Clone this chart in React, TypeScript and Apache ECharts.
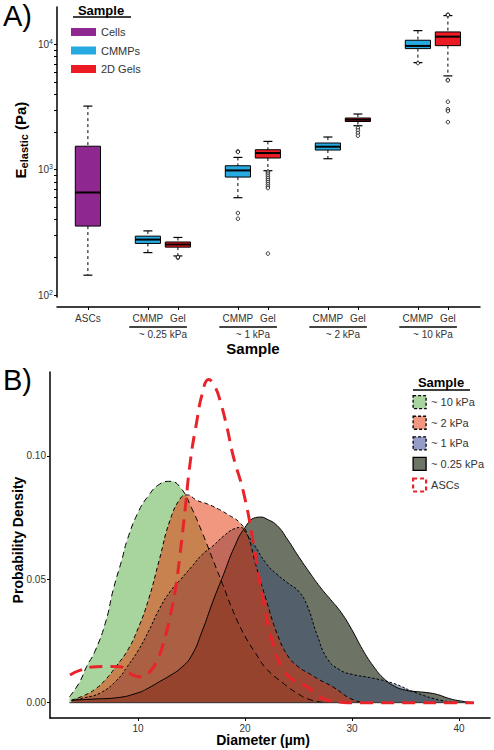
import React, { useEffect, useRef } from "react";
import * as echarts from "echarts";

const FONT = "'Liberation Sans', Arial, Helvetica, sans-serif";

// ---------- Panel A data ----------
const categoryLabels = ["ASCs", "CMMP", "Gel", "CMMP", "Gel", "CMMP", "Gel", "CMMP", "Gel"];
const categoryGroups = ["", "~ 0.25 kPa", "~ 0.25 kPa", "~ 1 kPa", "~ 1 kPa", "~ 2 kPa", "~ 2 kPa", "~ 10 kPa", "~ 10 kPa"];
const categorySample = ["Cells", "CMMPs", "2D Gels", "CMMPs", "2D Gels", "CMMPs", "2D Gels", "CMMPs", "2D Gels"];
const boxMin = [144, 218, 205, 598, 982, 1224, 2244, 7160, 5610];
const boxQ1 = [355, 258, 241, 874, 1240, 1436, 2426, 9260, 9780];
const boxMedian = [658, 277, 253, 987, 1359, 1527, 2507, 9730, 11540];
const boxQ3 = [1540, 295, 265, 1076, 1444, 1634, 2588, 10800, 12580];
const boxMax = [3220, 325, 288, 1254, 1683, 1824, 2784, 12890, 16990];
const boxOutliers: number[][] = [
  [],
  [],
  [198, 201],
  [1400, 1385, 451, 406],
  [969, 945, 915, 885, 855, 825, 795, 765, 735, 714, 214],
  [],
  [2152, 2061, 1964, 1868],
  [7100],
  [17300, 17150, 5210, 5170, 3490, 3040, 2940, 2400],
];
const sampleNames = ["Cells", "CMMPs", "2D Gels"];
const sampleColors = ["#8E278F", "#27AAE1", "#ED1C24"];
const yLabelValues = [100, 1000, 10000];

// ---------- Panel B data ----------
const densityNames = ["~ 10 kPa", "~ 2 kPa", "~ 1 kPa", "~ 0.25 kPa", "ASCs"];
const d10x = [3.6, 4.5, 5.2, 6.0, 7.0, 7.7, 8.5, 9.0, 10.0, 11.0, 12.0, 13.0, 14.0, 15.0, 16.0, 17.0, 18.0, 19.0, 20.0, 21.0, 22.0, 23.6, 25.0, 26.1, 27.5];
const d10y = [0.0024, 0.008, 0.0146, 0.021, 0.033, 0.046, 0.058, 0.066, 0.077, 0.084, 0.0885, 0.0897, 0.087, 0.079, 0.069, 0.058, 0.047, 0.036, 0.027, 0.02, 0.0138, 0.0078, 0.0035, 0.0012, 0];
const d2x = [3.8, 5, 6, 7, 8, 9, 10, 11, 12, 13, 14, 14.6, 15.5, 16.5, 17.5, 18.5, 19.5, 20.2, 21, 22, 23, 24, 25, 26, 27, 28.3, 29.8, 31];
const d2y = [0.001, 0.003, 0.0055, 0.0095, 0.015, 0.021, 0.03, 0.042, 0.058, 0.074, 0.083, 0.0842, 0.082, 0.0805, 0.0785, 0.076, 0.073, 0.0685, 0.056, 0.0415, 0.028, 0.019, 0.0145, 0.0118, 0.0092, 0.0062, 0.0018, 0];
const d1x = [3.8, 5, 6.5, 8, 9, 10, 11, 12, 13, 14, 15, 16, 17, 18, 19, 19.6, 20.2, 20.8, 22, 23, 24, 25, 25.8, 26.7, 27.7, 28.9, 30, 32, 33.9, 36, 38.3, 40];
const d1y = [0.001, 0.002, 0.004, 0.009, 0.0146, 0.021, 0.029, 0.038, 0.045, 0.05, 0.055, 0.06, 0.0635, 0.0675, 0.0705, 0.071, 0.068, 0.0644, 0.0563, 0.052, 0.0485, 0.0452, 0.0395, 0.028, 0.0178, 0.0132, 0.0115, 0.0099, 0.0078, 0.004, 0.001, 0];
const d025x = [3.8, 6, 8, 10, 11, 12, 13, 14, 15, 16, 17, 18, 19, 20, 21, 21.5, 22, 23, 24, 25, 26, 27, 28, 29, 30, 31, 32, 33, 34, 35, 36, 37, 38, 39, 40, 41.4];
const d025y = [0.001, 0.0015, 0.002, 0.004, 0.006, 0.0085, 0.011, 0.014, 0.019, 0.029, 0.041, 0.052, 0.063, 0.071, 0.075, 0.0752, 0.0745, 0.0718, 0.066, 0.0593, 0.053, 0.047, 0.0418, 0.0365, 0.0295, 0.0215, 0.0148, 0.0097, 0.0066, 0.0051, 0.0045, 0.0041, 0.0033, 0.0018, 0.0008, 0];
const dAx = [3.65, 4.5, 6.1, 7, 8.3, 9.2, 10.2, 11, 11.8, 12.5, 13, 13.5, 13.9, 14.4, 14.9, 15.5, 16, 16.6, 17.2, 17.7, 18.3, 18.9, 19.9, 20.8, 21.7, 22.7, 23.5, 24.5, 25.8, 26.7, 27.7, 29, 30, 41.4];
const dAy = [0.0112, 0.013, 0.0146, 0.0147, 0.0146, 0.012, 0.0105, 0.012, 0.0173, 0.026, 0.035, 0.046, 0.059, 0.078, 0.098, 0.114, 0.125, 0.131, 0.128, 0.122, 0.112, 0.1, 0.0846, 0.0644, 0.0415, 0.0226, 0.014, 0.0092, 0.0065, 0.003, 0.001, 0.0002, 0, 0];
const xTickValuesB = [10, 20, 30, 40];
const yTickValuesB = [0, 0.05, 0.1];

const zip = (xs: number[], ys: number[]) => xs.map((x, i) => [x, ys[i]]);

function buildOption() {
  const slots: number[] = [];
  let s = -1;
  let prev: string | null = null;
  categoryGroups.forEach((g, i) => {
    s += i === 0 ? 1 : g !== prev ? 2 : 1;
    slots.push(s);
    prev = g;
  });

  const minorTicks: number[] = [];
  for (let e = 2; e <= 4; e++) {
    for (let m = 1; m <= 9; m++) {
      const v = m * Math.pow(10, e);
      if (v <= 19900) minorTicks.push(v);
    }
  }

  const boxRender = (params: any, api: any) => {
    const x = api.value(0);
    const p = (v: number) => api.coord([x, v]);
    const [cx, yLo] = p(api.value(1));
    const yQ1 = p(api.value(2))[1];
    const yMed = p(api.value(3))[1];
    const yQ3 = p(api.value(4))[1];
    const yHi = p(api.value(5))[1];
    const hw = api.coord([x + 0.42, api.value(3)])[0] - cx;
    const cw = api.coord([x + 0.15, api.value(3)])[0] - cx;
    const color = api.visual("color");
    return {
      type: "group",
      children: [
        { type: "line", shape: { x1: cx, y1: yHi, x2: cx, y2: yQ3 }, style: { stroke: "#000", lineWidth: 1, lineDash: [3, 3] } },
        { type: "line", shape: { x1: cx, y1: yQ1, x2: cx, y2: yLo }, style: { stroke: "#000", lineWidth: 1, lineDash: [3, 3] } },
        { type: "line", shape: { x1: cx - cw, y1: yHi, x2: cx + cw, y2: yHi }, style: { stroke: "#000", lineWidth: 1.2 } },
        { type: "line", shape: { x1: cx - cw, y1: yLo, x2: cx + cw, y2: yLo }, style: { stroke: "#000", lineWidth: 1.2 } },
        { type: "rect", shape: { x: cx - hw, y: yQ3, width: 2 * hw, height: yQ1 - yQ3 }, style: { fill: color, stroke: "#000", lineWidth: 1 } },
        { type: "line", shape: { x1: cx - hw, y1: yMed, x2: cx + hw, y2: yMed }, style: { stroke: "#000", lineWidth: 2 } },
      ],
    };
  };

  const boxSeries = sampleNames.map((name, k) => ({
    type: "custom",
    name,
    xAxisIndex: 0,
    yAxisIndex: 0,
    itemStyle: { color: sampleColors[k] },
    encode: { x: 0, y: [1, 2, 3, 4, 5] },
    renderItem: boxRender,
    data: categorySample
      .map((c, i) => (c === name ? [slots[i], boxMin[i], boxQ1[i], boxMedian[i], boxQ3[i], boxMax[i]] : null))
      .filter((d) => d !== null),
    z: 3,
  }));

  const outlierData: number[][] = [];
  boxOutliers.forEach((arr, i) => arr.forEach((v) => outlierData.push([slots[i], v])));

  const groupNames = Array.from(new Set(categoryGroups.filter((g) => g)));
  const groupData = groupNames.map((g) => {
    const idx = categoryGroups.map((c, i) => (c === g ? i : -1)).filter((i) => i >= 0);
    return [slots[idx[0]], slots[idx[idx.length - 1]], 1000];
  });

  const groupRender = (params: any, api: any) => {
    const a = api.value(0);
    const b = api.value(1);
    const xa = api.coord([a, 1000])[0];
    const xb = api.coord([b, 1000])[0];
    const unit = api.coord([a + 1, 1000])[0] - xa;
    const bottom = params.coordSys.y + params.coordSys.height;
    return {
      type: "group",
      children: [
        { type: "line", shape: { x1: xa - 0.62 * unit, y1: bottom + 30, x2: xb + 0.3 * unit, y2: bottom + 30 }, style: { stroke: "#444", lineWidth: 1.8 } },
        {
          type: "text",
          x: (xa + xb) / 2,
          y: bottom + 37.5,
          style: { text: groupNames[params.dataIndex], fill: "#333", fontSize: 10, fontFamily: FONT, align: "center", verticalAlign: "middle" },
        },
      ],
    };
  };

  const densityStyles = [
    { name: "~ 10 kPa", xs: d10x, ys: d10y, fill: "#51AB3D", op: 0.5, dash: [6, 4] as any, legendFill: "#A8D59E" },
    { name: "~ 0.25 kPa", xs: d025x, ys: d025y, fill: "#1E2A14", op: 0.65, dash: "solid" as any, legendFill: "#6D7566" },
    { name: "~ 1 kPa", xs: d1x, ys: d1y, fill: "#3A4A70", op: 0.5, dash: [2.5, 2] as any, legendFill: "#969CC8" },
    { name: "~ 2 kPa", xs: d2x, ys: d2y, fill: "#E52F00", op: 0.5, dash: [4, 3] as any, legendFill: "#F2977F" },
  ];

  const densitySeries: any[] = densityStyles.map((d) => ({
    type: "line",
    name: d.name,
    xAxisIndex: 1,
    yAxisIndex: 1,
    data: zip(d.xs, d.ys),
    smooth: 0.5,
    showSymbol: false,
    symbol: "none",
    itemStyle: { color: d.fill },
    lineStyle: { color: "#000", width: 1, type: d.dash },
    areaStyle: { color: d.fill, opacity: d.op },
  }));
  densitySeries.push({
    type: "line",
    name: "baseline",
    xAxisIndex: 1,
    yAxisIndex: 1,
    data: [[3.6, 0], [41.4, 0]],
    showSymbol: false,
    symbol: "none",
    lineStyle: { color: "#333", width: 1 },
  });
  densitySeries.push({
    type: "line",
    name: "ASCs",
    xAxisIndex: 1,
    yAxisIndex: 1,
    data: zip(dAx, dAy),
    smooth: 0.5,
    showSymbol: false,
    symbol: "none",
    itemStyle: { color: "#E8242A" },
    lineStyle: { color: "#E8242A", width: 3, type: [13, 8] },
  });

  const legendBItems = densityNames.map((n) => {
    const st = densityStyles.find((d) => d.name === n);
    if (!st) {
      return { name: n, icon: "rect", itemStyle: { color: "#fff", borderColor: "#E8242A", borderWidth: 2.2, borderType: [4, 3] } };
    }
    return {
      name: n,
      icon: "rect",
      itemStyle: {
        color: st.legendFill,
        borderColor: "#000",
        borderWidth: 1.3,
        borderType: st.dash === "solid" ? "solid" : [3, 2],
      },
    };
  });

  const tickLabelStyle = { fontSize: 10, color: "#333", fontFamily: FONT };

  return {
    animation: false,
    backgroundColor: "#fff",
    textStyle: { fontFamily: FONT },
    grid: [
      { left: 57, top: 7, width: 423, height: 290 },
      { left: 50, top: 372, width: 440, height: 346 },
    ],
    xAxis: [
      {
        type: "value",
        gridIndex: 0,
        min: -1.03,
        max: 13.07,
        offset: 10,
        axisLine: { show: true, onZero: false, lineStyle: { color: "#000", width: 1.5 } },
        axisTick: { show: true, length: 3, customValues: slots, lineStyle: { color: "#000" } },
        axisLabel: {
          show: true,
          customValues: slots,
          margin: 6,
          ...tickLabelStyle,
          formatter: (v: number) => categoryLabels[slots.indexOf(Math.round(v))] || "",
        },
        splitLine: { show: false },
      },
      {
        type: "value",
        gridIndex: 1,
        min: 1.78,
        max: 42.9,
        axisLine: { show: true, onZero: false, lineStyle: { color: "#000", width: 1.5 } },
        axisTick: { show: true, length: 3, customValues: xTickValuesB, lineStyle: { color: "#000" } },
        axisLabel: { show: true, customValues: xTickValuesB, margin: 5, ...tickLabelStyle },
        splitLine: { show: false },
      },
    ],
    yAxis: [
      {
        type: "log",
        logBase: 10,
        gridIndex: 0,
        min: 96.4,
        max: 19900,
        axisLine: { show: true, onZero: false, lineStyle: { color: "#000", width: 1.5 } },
        axisTick: { show: true, length: 3, customValues: minorTicks, lineStyle: { color: "#000" } },
        axisLabel: {
          show: true,
          customValues: yLabelValues,
          margin: 4,
          formatter: (v: number) => `{b|10}{s|${Math.round(Math.log10(v))}}`,
          rich: {
            b: { fontSize: 10, color: "#333", fontFamily: FONT },
            s: { fontSize: 7, color: "#333", fontFamily: FONT, padding: [0, 0, 6, 0] },
          },
        },
        splitLine: { show: false },
      },
      {
        type: "value",
        gridIndex: 1,
        min: -0.0062,
        max: 0.134,
        axisLine: { show: true, onZero: false, lineStyle: { color: "#000", width: 1.5 } },
        axisTick: { show: true, length: 3, customValues: yTickValuesB, lineStyle: { color: "#000" } },
        axisLabel: {
          show: true,
          customValues: yTickValuesB,
          margin: 4,
          ...tickLabelStyle,
          formatter: (v: number) => v.toFixed(2),
        },
        splitLine: { show: false },
      },
    ],
    legend: [
      {
        orient: "vertical",
        left: 71,
        top: 26,
        padding: 0,
        itemWidth: 25,
        itemHeight: 8,
        itemGap: 6.5,
        selectedMode: false,
        data: sampleNames.map((n, k) => ({ name: n, icon: "rect", itemStyle: { color: sampleColors[k], borderWidth: 0 } })),
        textStyle: { fontSize: 11, color: "#333", fontFamily: FONT, lineHeight: 12 },
      },
      {
        orient: "vertical",
        left: 412,
        top: 395,
        padding: 0,
        itemWidth: 13,
        itemHeight: 13,
        itemGap: 6.3,
        selectedMode: false,
        data: legendBItems,
        textStyle: { fontSize: 11, color: "#333", fontFamily: FONT, lineHeight: 13 },
      },
    ],
    graphic: [
      { type: "text", x: 3, y: 16, style: { text: "A)", fontSize: 29, fontFamily: FONT, fill: "#000", verticalAlign: "middle" } },
      { type: "text", x: 3, y: 380, style: { text: "B)", fontSize: 29, fontFamily: FONT, fill: "#000", verticalAlign: "middle" } },
      { type: "text", x: 101, y: 10, style: { text: "Sample", fontSize: 13, fontWeight: "bold", fontFamily: FONT, fill: "#000", align: "center", verticalAlign: "middle" } },
      { type: "line", shape: { x1: 73, y1: 17, x2: 131, y2: 17 }, style: { stroke: "#000", lineWidth: 1.3 } },
      { type: "text", x: 441, y: 382, style: { text: "Sample", fontSize: 13, fontWeight: "bold", fontFamily: FONT, fill: "#000", align: "center", verticalAlign: "middle" } },
      { type: "line", shape: { x1: 413, y1: 390, x2: 470, y2: 390 }, style: { stroke: "#000", lineWidth: 1.3 } },
      { type: "text", x: 253, y: 348, style: { text: "Sample", fontSize: 15, fontWeight: "bold", fontFamily: FONT, fill: "#000", align: "center", verticalAlign: "middle" } },
      {
        type: "text",
        x: 20,
        y: 140,
        rotation: Math.PI / 2,
        style: {
          text: "{e|E}{s|elastic}{e| (Pa)}",
          align: "center",
          verticalAlign: "middle",
          rich: {
            e: { fontSize: 15, fontWeight: "bold", fontFamily: FONT, fill: "#000" },
            s: { fontSize: 11, fontWeight: "bold", fontFamily: FONT, fill: "#000", padding: [7, 0, 0, 0] },
          },
        },
      },
      {
        type: "text",
        x: 18,
        y: 540,
        rotation: Math.PI / 2,
        style: { text: "Probability Density", fontSize: 14, fontWeight: "bold", fontFamily: FONT, fill: "#000", align: "center", verticalAlign: "middle" },
      },
      { type: "text", x: 263, y: 740, style: { text: "Diameter (µm)", fontSize: 14, fontWeight: "bold", fontFamily: FONT, fill: "#000", align: "center", verticalAlign: "middle" } },
    ],
    series: [
      ...boxSeries,
      {
        type: "scatter",
        name: "outliers",
        xAxisIndex: 0,
        yAxisIndex: 0,
        data: outlierData,
        symbol: "circle",
        symbolSize: 3.5,
        itemStyle: { color: "#fff", borderColor: "#000", borderWidth: 1 },
        z: 4,
      },
      {
        type: "custom",
        name: "groups",
        xAxisIndex: 0,
        yAxisIndex: 0,
        encode: { x: [0, 1], y: 2 },
        data: groupData,
        renderItem: groupRender,
        silent: true,
      },
      ...densitySeries,
    ],
  };
}

export default function App() {
  const ref = useRef<HTMLDivElement>(null);
  useEffect(() => {
    if (!ref.current) return;
    const chart = echarts.init(ref.current, undefined, { renderer: "svg" });
    chart.setOption(buildOption() as any);
    return () => chart.dispose();
  }, []);
  return <div ref={ref} style={{ position: "absolute", left: 0, top: 0, width: 494, height: 750 }} />;
}
